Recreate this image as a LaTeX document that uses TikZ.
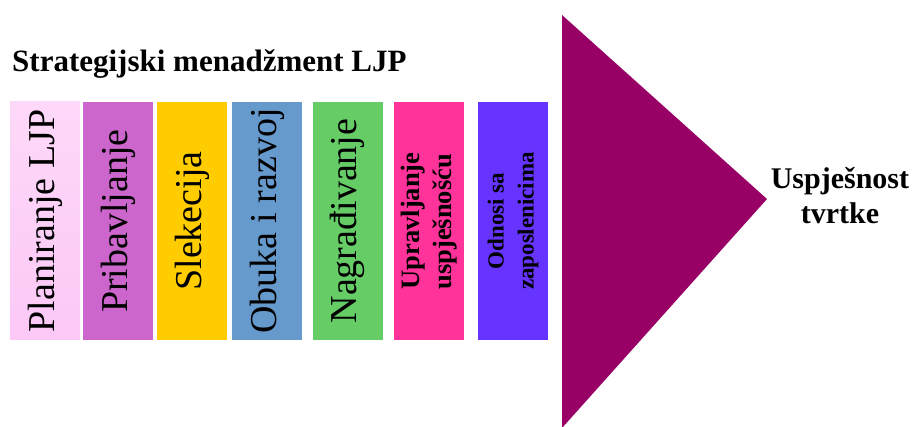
\documentclass[tikz,border=0pt]{standalone}
\usepackage{fontspec}
\setmainfont{Liberation Serif}
\definecolor{planpink}{HTML}{FCC8F6}
\definecolor{pribviolet}{HTML}{CC66CC}
\definecolor{selyellow}{HTML}{FFCC00}
\definecolor{obublue}{HTML}{6699CC}
\definecolor{nagrgreen}{HTML}{66CC66}
\definecolor{uprpink}{HTML}{FF3399}
\definecolor{odnviolet}{HTML}{6633FF}
\definecolor{uspmaroon}{HTML}{990066}
\tikzset{
  bar/.style={rotate=90,minimum width=238pt,minimum height=70pt,inner sep=0pt,
    font=\fontsize{38}{42}\selectfont},
  smallbar/.style={bar,font=\fontsize{26.5}{32}\selectfont\bfseries}
}
\begin{document}
\begin{tikzpicture}[x=1pt,y=-1pt]
\useasboundingbox (0,0) rectangle (914,427);
\node [anchor=base west,inner sep=0pt,font=\fontsize{31}{36}\selectfont\bfseries] (title) at (12,72) {Strategijski menadžment LJP};
\node [bar,top color=planpink!70!white,bottom color=planpink] (plan) at (45,221) {Planiranje LJP};
\node [bar,fill=pribviolet] (prib) at (118,221) {Pribavljanje};
\node [bar,fill=selyellow] (sel) at (192,221) {Slekecija};
\node [bar,fill=obublue] (obuka) at (267,221) {Obuka i razvoj};
\node [bar,fill=nagrgreen] (nagr) at (347.5,221) {Nagrađivanje};
\node [smallbar,fill=uprpink,align=left] (upr) at (429,221) {Upravljanje\\uspješnošću};
\node [smallbar,fill=odnviolet,align=center,font=\fontsize{23}{30}\selectfont\bfseries] (odn) at (513,221) {Odnosi sa\\zaposlenicima};
\fill [color=uspmaroon] (562,15)-- (767,199)-- (562,428)-- cycle;
\node [align=center,inner sep=0pt,font=\fontsize{30}{35}\selectfont\bfseries] (usp) at (840,196) {Uspješnost\\tvrtke};
\end{tikzpicture}
\end{document}
